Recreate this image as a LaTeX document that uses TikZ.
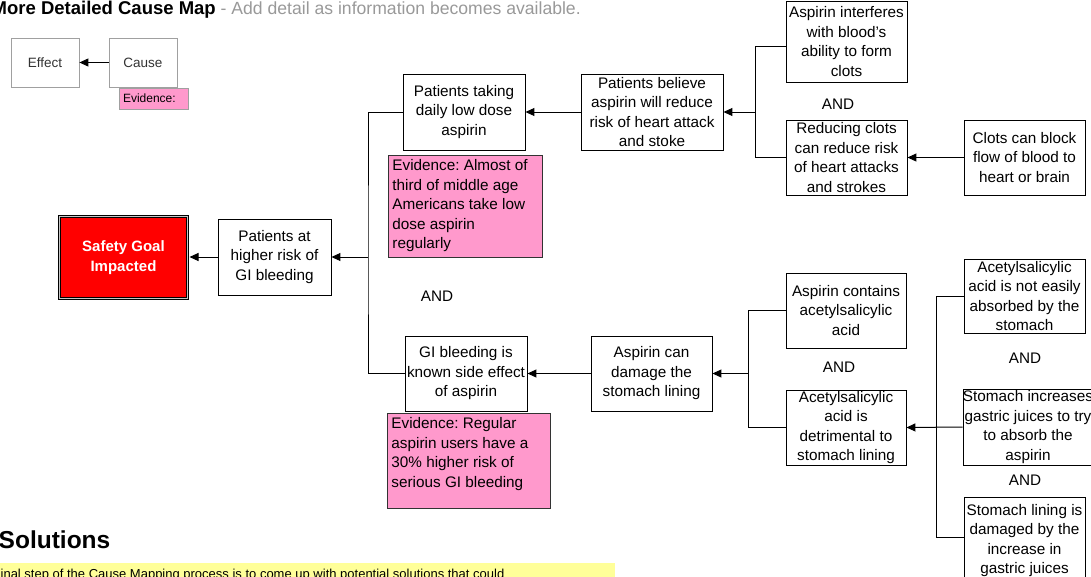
\documentclass[tikz,border=0pt]{standalone}
\usepackage{fontspec}
\setmainfont{Liberation Sans}
\usetikzlibrary{arrows.meta,calc}
\definecolor{pinkev}{HTML}{FF99CC}
\definecolor{titlegray}{HTML}{999999}
\definecolor{hlyellow}{HTML}{FFFF99}
\definecolor{legendline}{HTML}{A0A0A0}
\frenchspacing
\begin{document}
\begin{tikzpicture}[x=1pt,y=-1pt,
  box/.style={draw=black, line width=0.9pt, fill=white, inner sep=0pt, align=center,
    font=\fontsize{15.3}{19.5}\selectfont, text=black},
  evid/.style={draw=black!80, fill=pinkev, line width=0.9pt, anchor=north west, inner sep=4pt,
    font=\fontsize{15.3}{19.5}\selectfont, text=black},
  legendbox/.style={draw=legendline, line width=0.8pt, fill=white, inner sep=0pt,
    font=\fontsize{13.5}{16}\selectfont, text=black!80},
  arr/.style={line width=1pt, -{Triangle[length=9pt,width=8pt]}},
  link/.style={line width=1pt},
  andlbl/.style={font=\fontsize{15.3}{18}\selectfont, inner sep=0pt}
]
\useasboundingbox (0,0) rectangle (1091,576);
\clip (0,0) rectangle (1091,576);

% title
\node[anchor=base west, inner sep=0pt, font=\bfseries\fontsize{18.5}{20}\selectfont] (title) at (-8.5,14)
  {More Detailed Cause Map{\color{titlegray}\fontseries{m}\fontsize{17.6}{20}\selectfont\ - Add detail as information becomes available.}};

% legend
\node[legendbox, minimum width=68, minimum height=49] (effect) at (45,62.5) {Effect};
\node[legendbox, minimum width=68, minimum height=49] (cause) at (143,62.5) {Cause};
\node[draw=legendline, line width=0.8pt, fill=pinkev, minimum width=69, minimum height=21,
  inner xsep=4pt, inner ysep=0pt, text width=61pt, align=left, font=\fontsize{12}{14}\selectfont]
  (ev0) at (153.5,98.5) {Evidence:};
\draw[arr] (cause) -- (effect);

% goal
\node[draw=black, line width=1pt, double=gray!45, double distance=1.5pt, fill=red,
  minimum width=128, minimum height=82, inner sep=0pt, align=center, text=white,
  font=\bfseries\fontsize{15}{20}\selectfont] (goal) at (123.5,257.5) {Safety Goal\\Impacted};

% main boxes
\node[box, minimum width=113, minimum height=76] (higher) at (274.5,257) {Patients at\\higher risk of\\GI bleeding};
\node[box, minimum width=122, minimum height=76] (taking) at (464,112) {Patients taking\\daily low dose\\aspirin};
\node[box, minimum width=142, minimum height=76] (believe) at (652,112) {Patients believe\\aspirin will reduce\\risk of heart attack\\and stoke};
\node[box, minimum width=121, minimum height=81] (interf) at (846.5,41.5) {Aspirin interferes\\with blood's\\ability to form\\clots};
\node[box, minimum width=121, minimum height=75] (reducing) at (846.5,157.5) {Reducing clots\\can reduce risk\\of heart attacks\\and strokes};
\node[box, minimum width=121, minimum height=75] (clots) at (1024.5,157.5) {Clots can block\\flow of blood to\\heart or brain};

\node[box, minimum width=122, minimum height=75] (gi) at (466,373.5) {GI bleeding is\\known side effect\\of aspirin};
\node[box, minimum width=121, minimum height=75] (damage) at (651.5,373.5) {Aspirin can\\damage the\\stomach lining};
\node[box, minimum width=120, minimum height=75] (contains) at (846,310.5) {Aspirin contains\\acetylsalicylic\\acid};
\node[box, minimum width=120, minimum height=75] (detrim) at (846,427.5) {Acetylsalicylic\\acid is\\detrimental to\\stomach lining};
\node[box, minimum width=121, minimum height=74] (noteasily) at (1024.5,296) {Acetylsalicylic\\acid is not easily\\absorbed by the\\stomach};
\node[box, minimum width=128, minimum height=76] (increase) at (1028,427) {Stomach increases\\gastric juices to try\\to absorb the\\aspirin};
\node[box, minimum width=121, minimum height=87] (lining) at (1024.5,540.5) {Stomach lining is\\damaged by the\\increase in\\gastric juices};

% evidence
\node[evid, minimum width=154, minimum height=102] (ev1) at (388,155)
  {\parbox[c][94pt][t]{146pt}{\raggedright Evidence: Almost of\\third of middle age\\Americans take low\\dose aspirin\\regularly}};
\node[evid, minimum width=163, minimum height=95] (ev2) at (387,413)
  {\parbox[c][87pt][t]{155pt}{\raggedright Evidence: Regular\\aspirin users have a\\30\% higher risk of\\serious GI bleeding}};

% AND labels
\node[andlbl] (and1) at (437,296) {AND};
\node[andlbl] (and2) at (838,104) {AND};
\node[andlbl] (and3) at (839,367) {AND};
\node[andlbl] (and4) at (1025,358) {AND};
\node[andlbl] (and5) at (1025,480) {AND};

% junctions
\coordinate (j1) at (368,257);
\coordinate (j2) at (755,112);
\coordinate (j3) at (748,373.5);
\coordinate (j4) at (936,427.5);

\draw[arr, shorten >=1.5pt] (higher) -- (goal.east |- higher.west);
\draw[link] (taking.west) -| (j1) |- (gi.west);
\draw[arr] (j1) -- (higher.east);
\draw[arr] (believe) -- (taking);
\draw[link] ($(interf.west)+(0,4.5)$) -| (j2) |- (reducing.west);
\draw[arr] (j2) -- (believe.east);
\draw[arr] (clots) -- (reducing);
\draw[arr] (damage) -- (gi);
\draw[link] (contains.west) -| (j3) |- (detrim.west);
\draw[arr] (j3) -- (damage.east);
\draw[link] (noteasily.west) -| (j4) |- ($(lining.west)+(0,-3.5)$);
\draw[arr] (increase.west) -- (detrim.east);

% solutions
\node[anchor=base west, inner sep=0pt, font=\bfseries\fontsize{24.5}{27}\selectfont] (sol) at (-1.5,548) {Solutions};
\node[fill=hlyellow, anchor=north west, minimum width=615, minimum height=20, inner sep=0pt] (hl) at (0,563) {};
\node[anchor=base west, inner sep=0pt, font=\fontsize{13}{15}\selectfont] (soltext) at (-7.5,578)
  {Final step of the Cause Mapping process is to come up with potential solutions that could};
\end{tikzpicture}
\end{document}
